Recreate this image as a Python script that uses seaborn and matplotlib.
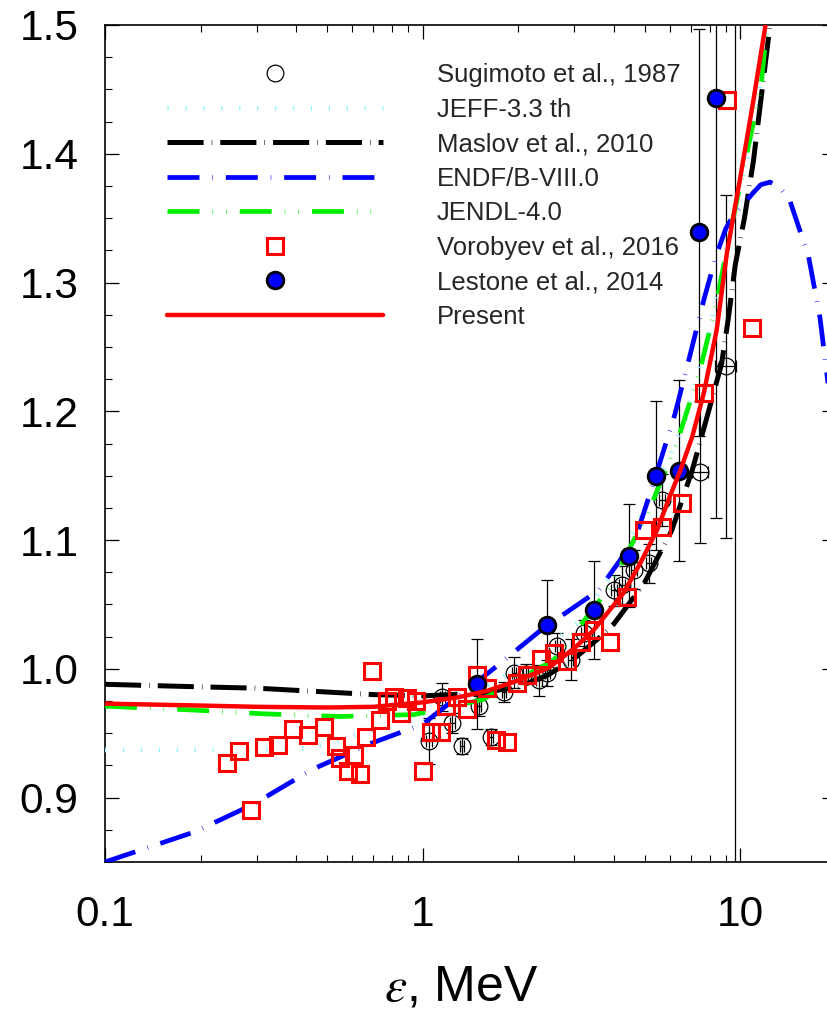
import numpy as np
import pandas as pd
import matplotlib
matplotlib.use("Agg")
import matplotlib.pyplot as plt
import seaborn as sns
from matplotlib.ticker import (FixedLocator, MultipleLocator, LogLocator,
                               FuncFormatter, NullFormatter, FormatStrFormatter)

# ---------------- data ----------------
# Present (red solid)
present_x = [0.1, 0.2, 0.3, 0.5, 0.7, 1.0, 1.3, 1.6, 2.0, 2.5, 3.0, 3.45, 4.29, 4.84,
             5.47, 6.0, 6.47, 7.05, 7.67, 8.42, 9.07, 10.0, 11.0, 12.0]
present_y = [0.973, 0.9715, 0.9705, 0.970, 0.9705, 0.974, 0.978, 0.983, 0.991, 1.001,
             1.016, 1.030, 1.059, 1.082, 1.108, 1.134, 1.154, 1.180, 1.214, 1.263,
             1.323, 1.382, 1.442, 1.5]

# Maslov et al., 2010 (black dash-dot)
maslov_x = [0.1, 0.2, 0.3, 0.5, 0.7, 1.0, 1.5, 2.0, 2.47, 3.0, 3.63, 4.0, 4.97, 6.07,
            7.05, 7.76, 8.73, 9.15, 9.64, 10.3, 11.0, 12.4]
maslov_y = [0.988, 0.986, 0.985, 0.982, 0.980, 0.979, 0.981, 0.986, 0.995, 1.008,
            1.025, 1.035, 1.066, 1.107, 1.154, 1.191, 1.237, 1.271, 1.314, 1.350,
            1.395, 1.5]

# ENDF/B-VIII.0 (blue)
endf_x = [0.1, 0.192, 0.294, 0.45, 0.686, 1.0, 1.67, 2.38, 3.58, 4.67, 5.40, 6.21,
          6.9, 7.7, 8.42, 9.0, 9.5, 10.24, 11.0, 11.6, 12.4, 13.4, 14.3, 16.4, 17.8,
          18.7, 20.0]
endf_y = [0.850, 0.8735, 0.895, 0.922, 0.942, 0.957, 1.000, 1.031, 1.061, 1.101,
          1.149, 1.197, 1.241, 1.288, 1.322, 1.342, 1.352, 1.361, 1.370, 1.376,
          1.378, 1.373, 1.364, 1.320, 1.273, 1.230, 1.170]

# JENDL-4.0 (green)
jendl_x = [0.1, 0.19, 0.32, 0.55, 0.94, 1.54, 2.59, 3.84, 5.12, 6.36, 7.43, 8.42,
           9.32, 10.45, 11.6, 12.14]
jendl_y = [0.971, 0.968, 0.965, 0.963, 0.9645, 0.976, 1.007, 1.062, 1.121, 1.178,
           1.230, 1.285, 1.341, 1.399, 1.451, 1.5]

# JEFF-3.3 th (light cyan dotted)
jeff_x = [0.1, 0.2, 0.3, 0.43, 0.5, 0.6, 0.85, 1.2, 1.7, 2.2, 2.7, 3.1, 4.1, 5.6,
          6.7, 7.85, 10.0, 11.1, 12.2]
jeff_y = [0.937, 0.937, 0.937, 0.938, 0.942, 0.948, 0.958, 0.972, 0.990, 1.007,
          1.025, 1.036, 1.080, 1.150, 1.193, 1.253, 1.374, 1.418, 1.5]

# Vorobyev et al., 2016 (red open squares)
vorob_x = [0.242, 0.265, 0.289, 0.317, 0.351, 0.391, 0.436, 0.489, 0.533, 0.550,
           0.580, 0.606, 0.635, 0.665, 0.695, 0.734, 0.770, 0.812, 0.853, 0.895,
           0.95, 1.0, 1.06, 1.14, 1.18, 1.285, 1.383, 1.486, 1.598, 1.697, 1.848,
           1.984, 2.133, 2.35, 2.587, 2.85, 3.14, 3.46, 3.9, 4.4, 4.96, 5.67, 6.56,
           7.67, 9.07, 10.88]
vorob_y = [0.927, 0.936, 0.890, 0.939, 0.941, 0.953, 0.949, 0.955, 0.940, 0.931,
           0.921, 0.933, 0.918, 0.947, 0.998, 0.960, 0.975, 0.978, 0.966, 0.977,
           0.975, 0.921, 0.951, 0.951, 0.971, 0.978, 0.969, 0.995, 0.985, 0.945,
           0.943, 0.989, 0.995, 1.008, 1.012, 1.006, 1.021, 1.030, 1.021, 1.056,
           1.108, 1.110, 1.129, 1.214, 1.442, 1.265]

# Sugimoto et al., 1987 (open circles with error bars)
sug_x = [1.047, 1.153, 1.24, 1.333, 1.50, 1.636, 1.802, 1.94, 2.107, 2.32, 2.47,
         2.65, 2.92, 3.21, 4.0, 4.24, 4.62, 5.14, 5.67, 7.48, 9.02, 9.6]
sug_y = [0.944, 0.978, 0.958, 0.940, 0.971, 0.947, 0.982, 0.997, 0.996, 0.991,
         0.997, 1.018, 1.007, 1.028, 1.061, 1.065, 1.077, 1.082, 1.131, 1.153,
         1.235, 1.70]
sug_yerr = [0.018, 0.011, 0.008, 0.006, 0.008, 0.006, 0.008, 0.012, 0.008, 0.012,
            0.010, 0.010, 0.016, 0.010, 0.012, 0.015, 0.015, 0.015, 0.020, 0.055,
            0.133, 0.95]
sug_xerr = [0.02, 0.02, 0.02, 0.02, 0.03, 0.03, 0.03, 0.03, 0.04, 0.05, 0.05,
            0.05, 0.05, 0.06, 0.08, 0.08, 0.10, 0.10, 0.12, 0.44, 0.70, 0.0]

# Lestone et al., 2014 (blue filled circles with error bars)
les_x = [1.486, 2.47, 3.46, 4.46, 5.44, 6.43, 7.43, 8.40]
les_y = [0.988, 1.034, 1.046, 1.088, 1.150, 1.154, 1.339, 1.443]
les_yerr = [0.035, 0.035, 0.038, 0.040, 0.058, 0.070, 0.158, 0.326]

# ---------------- style ----------------
sns.set_theme(style="ticks")
plt.rcParams['font.family'] = ['Liberation Sans', 'DejaVu Sans']
plt.rcParams['mathtext.fontset'] = 'stix'
plt.rcParams['lines.scale_dashes'] = False

fig = plt.figure(figsize=(8.27, 10.14), dpi=100)
ax = fig.add_axes([105 / 827, 152 / 1014, 731 / 827, 837 / 1014])
ax.set_xscale('log')

# error bars
ax.errorbar(sug_x, sug_y, yerr=sug_yerr, xerr=sug_xerr, fmt='none', ecolor='black',
            elinewidth=0.9, capsize=4.5, capthick=0.9, zorder=2)
ax.errorbar(les_x, les_y, yerr=les_yerr, fmt='none', ecolor='black',
            elinewidth=0.9, capsize=4.5, capthick=0.9, zorder=2)

common = dict(ax=ax, estimator=None, sort=False)

sns.lineplot(x=sug_x, y=sug_y, marker='o', linestyle='none', ms=12,
             mfc='none', mec='black', mew=0.9, color='black',
             label='Sugimoto et al., 1987', zorder=3, **common)
sns.lineplot(x=jeff_x, y=jeff_y, color='#8ff3f7', lw=3.5,
             linestyle=(0, (0.9, 12)), label='JEFF-3.3 th', zorder=4, **common)
sns.lineplot(x=maslov_x, y=maslov_y, color='black', lw=3.6,
             linestyle=(0, (26, 5.8, 0.4, 5.8)), label='Maslov et al., 2010',
             zorder=4, **common)
sns.lineplot(x=endf_x, y=endf_y, color='#0000ff', lw=3.4,
             linestyle=(0, (23, 9.3, 0.4, 9.3)), label='ENDF/B-VIII.0', zorder=4, **common)
sns.lineplot(x=jendl_x, y=jendl_y, color='#00ee00', lw=3.4,
             linestyle=(0, (23, 9.4, 0.4, 9.4, 0.4, 9.4)), label='JENDL-4.0', zorder=4,
             **common)
sns.lineplot(x=vorob_x, y=vorob_y, marker='s', linestyle='none', ms=11,
             mfc='none', mec='#ff0000', mew=2.2, color='#ff0000',
             label='Vorobyev et al., 2016', zorder=5, **common)
sns.lineplot(x=les_x, y=les_y, marker='o', linestyle='none', ms=12,
             mfc='#0000ff', mec='black', mew=2.0, color='#0000ff',
             label='Lestone et al., 2014', zorder=6, **common)
sns.lineplot(x=present_x, y=present_y, color='#ff0000', lw=3.2, linestyle='-',
             label='Present', zorder=7, **common)

# ---------------- axes ----------------
ax.set_xlim(0.1, 20)
ax.set_ylim(0.85, 1.5)
ax.xaxis.set_major_locator(FixedLocator([0.1, 1, 10]))
ax.xaxis.set_minor_locator(LogLocator(base=10, subs=np.arange(2, 10), numticks=20))
ax.xaxis.set_major_formatter(FuncFormatter(lambda v, p: f'{v:g}'))
ax.xaxis.set_minor_formatter(NullFormatter())
ax.yaxis.set_major_locator(MultipleLocator(0.1))
ax.yaxis.set_minor_locator(MultipleLocator(0.025))
ax.yaxis.set_major_formatter(FormatStrFormatter('%.1f'))

ax.tick_params(which='both', direction='in', top=True, right=True, colors='black')
ax.tick_params(which='major', length=10, width=0.9, labelsize=30.5)
ax.tick_params(which='minor', length=5, width=0.8)
ax.tick_params(axis='y', which='major', pad=19)
ax.tick_params(axis='x', which='major', pad=24)
for s in ax.spines.values():
    s.set_color('black')
    s.set_linewidth(1.2)

ax.set_xlabel(r'$\varepsilon$, MeV', fontsize=36, color='black')
ax.xaxis.set_label_coords(0.488, -0.123)
ax.set_ylabel('')

handles, labels = ax.get_legend_handles_labels()
order = ['Sugimoto et al., 1987', 'JEFF-3.3 th', 'Maslov et al., 2010', 'ENDF/B-VIII.0',
         'JENDL-4.0', 'Vorobyev et al., 2016', 'Lestone et al., 2014', 'Present']
hmap = dict(zip(labels, handles))
ax.legend([hmap[l] for l in order], order, loc='upper left',
          bbox_to_anchor=(167 / 827, (1014 - 63) / 1014), bbox_transform=fig.transFigure,
          frameon=False, fontsize=18.5, handlelength=8.4, handletextpad=2.1,
          labelspacing=0.41, borderpad=0, borderaxespad=0)

fig.savefig('out.png', dpi=100)
